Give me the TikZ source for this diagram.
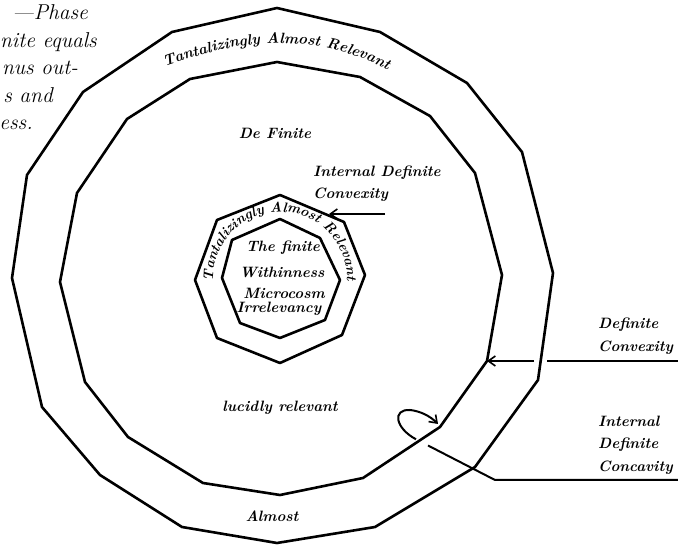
\documentclass[tikz,border=0pt]{standalone}
\usetikzlibrary{arrows.meta,decorations.text}
\begin{document}
\begin{tikzpicture}[x=1pt,y=1pt]
\tikzset{
  ring/.style={line width=2.6pt, line join=round},
  lbl/.style={font=\fontsize{15}{22.5}\selectfont\bfseries\itshape, inner sep=0pt, align=center},
  lblL/.style={lbl, align=left, anchor=west},
  capline/.style={font=\fontsize{21.5}{26}\selectfont\itshape, inner sep=0pt, anchor=base east},
  conn/.style={line width=2pt},
  barb/.style={-{Straight Barb[length=7pt,width=10pt,line width=1.6pt]}}
}
\useasboundingbox (0,0) rectangle (678,546);
% outer polygon
\coordinate (o1) at (277,538);
\coordinate (o2) at (380,514);
\coordinate (o3) at (467,463);
\coordinate (o4) at (522,394);
\coordinate (o5) at (553,273);
\coordinate (o6) at (538,166);
\coordinate (o7) at (475,79);
\coordinate (o8) at (375,19);
\coordinate (o9) at (277,3);
\coordinate (o10) at (182,19);
\coordinate (o11) at (100,71);
\coordinate (o12) at (42,139);
\coordinate (o13) at (12,268);
\coordinate (o14) at (27,371);
\coordinate (o15) at (83,454);
\coordinate (o16) at (172,514);
\draw[ring] (o1)--(o2)--(o3)--(o4)--(o5)--(o6)--(o7)--(o8)--(o9)--(o10)--(o11)--(o12)--(o13)--(o14)--(o15)--(o16)--cycle;
% inner ring polygon
\coordinate (i1) at (277,484);
\coordinate (i2) at (360,469);
\coordinate (i3) at (430,430);
\coordinate (i4) at (475,373);
\coordinate (i5) at (502,271);
\coordinate (i6) at (487,185);
\coordinate (i7) at (440,119);
\coordinate (i8) at (363,68);
\coordinate (i9) at (280,51);
\coordinate (i10) at (203,63);
\coordinate (i11) at (128,109);
\coordinate (i12) at (85,164);
\coordinate (i13) at (60,264);
\coordinate (i14) at (77,353);
\coordinate (i15) at (127,427);
\coordinate (i16) at (190,467);
\draw[ring] (i1)--(i2)--(i3)--(i4)--(i5)--(i6)--(i7)--(i8)--(i9)--(i10)--(i11)--(i12)--(i13)--(i14)--(i15)--(i16)--cycle;
% octagon outer
\coordinate (h1) at (280,351);
\coordinate (h2) at (344,324);
\coordinate (h3) at (365,271);
\coordinate (h4) at (342,211);
\coordinate (h5) at (280,183);
\coordinate (h6) at (217,208);
\coordinate (h7) at (195,266);
\coordinate (h8) at (217,326);
\draw[ring] (h1)--(h2)--(h3)--(h4)--(h5)--(h6)--(h7)--(h8)--cycle;
% octagon inner
\coordinate (k1) at (280,327);
\coordinate (k2) at (320,308);
\coordinate (k3) at (340,266);
\coordinate (k4) at (325,226);
\coordinate (k5) at (280,208);
\coordinate (k6) at (240,223);
\coordinate (k7) at (222,268);
\coordinate (k8) at (232,306);
\draw[ring] (k1)--(k2)--(k3)--(k4)--(k5)--(k6)--(k7)--(k8)--cycle;

% ring texts
\path[decorate, decoration={text along path, text align=center,
  text={|\fontsize{15}{18}\selectfont\bfseries\itshape|Tantalizingly Almost Relevant}}]
  (158,477) .. controls (200,492) and (235,502) .. (275,503)
  .. controls (315,503) and (355,494) .. (394,473);
\path[decorate, decoration={text along path, text align=center,
  text={|\fontsize{14}{17}\selectfont\bfseries\itshape|Tantalizingly Almost Relevant}}]
  (280,267) ++(192:67pt) arc[start angle=192, end angle=-12, radius=67pt];

% labels
\node[lbl] (defin) at (275,413) {De Finite};
\node[lblL] (icx) at (313,362) {Internal Definite\\Convexity};
\node[lbl] (fin) at (283,298) {The finite};
\node[lbl] (within) at (282,274) {Withinness};
\node[lbl] (micro) at (284,253) {Microcosm};
\node[lbl] (irr) at (279,237) {Irrelevancy};
\node[lbl] (lucid) at (280,138) {lucidly relevant};
\node[lbl] (almost) at (272,30) {Almost};
\node[lblL] (dcx) at (598,209.5) {Definite\\Convexity};
\node[lblL] (icc) at (598,101) {Internal\\Definite\\Concavity};

% caption fragment
\node[capline] (c1) at (88,526) {—Phase};
\node[capline] (c2) at (97,498) {nite equals};
\node[capline] (c3) at (78,471) {nus out-};
\node[capline] (c4) at (53,443) {s and};
\node[capline] (c5) at (33,416) {ess.};

% connectors
\coordinate (icxS) at (385,332);
\coordinate (icxT) at (329,332);
\draw[conn,barb] (icxS) -- (icxT);

\coordinate (dcR) at (678,185);
\coordinate (dcG1) at (547,185);
\coordinate (dcG2) at (534,185);
\draw[conn] (dcR) -- (dcG1);
\draw[conn,barb] (dcG2) -- (i6);

\coordinate (ccR) at (678,66);
\coordinate (ccK) at (495,66);
\coordinate (ccG1) at (428,100.5);
\coordinate (ccG2) at (416,106.7);
\coordinate (lpT) at (438,122);
\draw[conn] (ccR) -- (ccK) -- (ccG1);
\draw[conn,barb] (ccG2) .. controls (395,118) and (392,137) .. (410,136)
  .. controls (420,135) and (430,130) .. (lpT);
\end{tikzpicture}
\end{document}
